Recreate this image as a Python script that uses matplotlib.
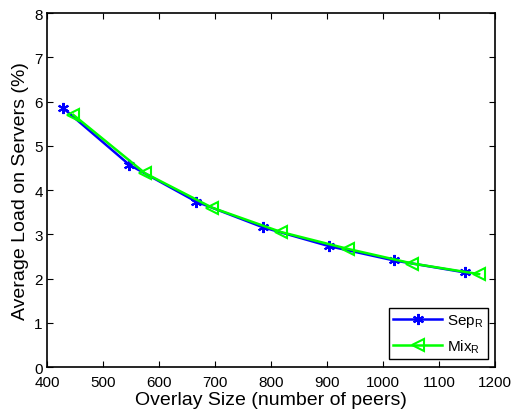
import matplotlib.pyplot as plt

plt.rcParams['font.family'] = ['Liberation Sans', 'DejaVu Sans']

# overlay size vs. average server load
sep_x = [429, 547, 666, 785, 904, 1019, 1145]
sep_y = [5.85, 4.57, 3.74, 3.16, 2.73, 2.41, 2.14]
mix_x = [447, 575, 695, 818, 937, 1052, 1171]
mix_y = [5.70, 4.38, 3.60, 3.05, 2.67, 2.34, 2.10]

fig = plt.figure(figsize=(5.13, 4.14), dpi=100)
ax = fig.add_axes([0.0916, 0.111, 0.874, 0.855])

ax.plot(sep_x, sep_y, color='#0000ff', lw=1.8, marker=(6, 2, 0), ms=8,
        mew=1.5, label='Sep$_\\mathregular{R}$')
ax.plot(mix_x, mix_y, color='#00ff00', lw=1.8, marker='<', ms=9,
        mfc='none', mew=1.5, label='Mix$_\\mathregular{R}$')

ax.set_xlim(400, 1200)
ax.set_ylim(0, 8)
ax.set_xticks(range(400, 1201, 100))
ax.set_yticks(range(0, 9))
ax.tick_params(direction='in', top=True, right=True, labelsize=11,
               length=4, width=0.8)
ax.tick_params(axis='x', pad=6)
ax.tick_params(axis='y', pad=3)
for s in ax.spines.values():
    s.set_linewidth(1.2)

ax.set_xlabel('Overlay Size (number of peers)', fontsize=14, labelpad=1)
ax.set_ylabel('Average Load on Servers (%)', fontsize=14, labelpad=4)

leg = ax.legend(loc='lower right', fontsize=11, fancybox=False,
                edgecolor='black', framealpha=1, handlelength=3.2,
                borderaxespad=0.5, handletextpad=0.3, borderpad=0.3)
leg.get_frame().set_linewidth(1.0)

fig.savefig('out.png', dpi=100)
